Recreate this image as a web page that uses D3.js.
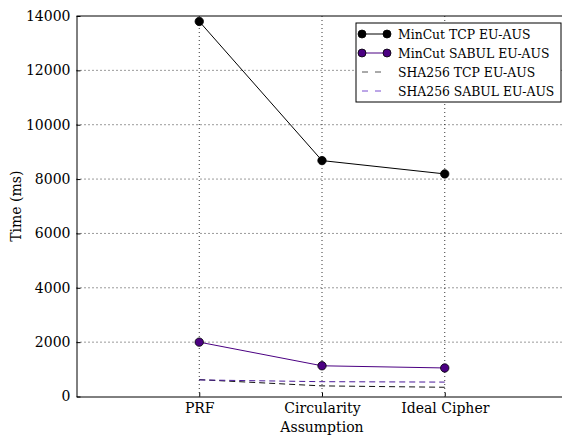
<!DOCTYPE html>
<html><head><meta charset="utf-8">
<script src="https://cdn.jsdelivr.net/npm/d3@7"></script>
<style>body{margin:0;background:#fff}svg{display:block}text{font-family:"DejaVu Serif",serif;fill:#000}</style>
</head><body><svg id="c" width="562" height="435"></svg>
<script>
const categories = ["PRF", "Circularity", "Ideal Cipher"];
const minCutTCP = [13800, 8680, 8190];
const minCutSABUL = [2000, 1130, 1050];
const shaTCP = [620, 390, 340];
const shaSABUL = [610, 545, 530];
const yTicks = [0, 2000, 4000, 6000, 8000, 10000, 12000, 14000];
const seriesNames = ["MinCut TCP EU-AUS", "MinCut SABUL EU-AUS", "SHA256 TCP EU-AUS", "SHA256 SABUL EU-AUS"];

const svg = d3.select("#c");
const L = 76.5, R = 567.5, T = 16, B = 396.5;
const x = d3.scaleLinear().domain([-1, 3]).range([L, R]);
const y = d3.scaleLinear().domain([0, 14000]).range([B, T]);

// grid
svg.append("g").selectAll("line").data(yTicks.slice(1, -1)).join("line")
  .attr("x1", L).attr("x2", R).attr("y1", d => y(d)).attr("y2", d => y(d))
  .attr("stroke", "#000").attr("stroke-width", 0.8).attr("stroke-dasharray", "1,3");
svg.append("g").selectAll("line").data(categories).join("line")
  .attr("x1", (d, i) => x(i)).attr("x2", (d, i) => x(i)).attr("y1", T).attr("y2", B)
  .attr("stroke", "#000").attr("stroke-width", 0.8).attr("stroke-dasharray", "1,3");

// axes
const yAxis = d3.axisLeft(y).tickValues(yTicks).tickFormat(d3.format("d")).tickSizeInner(-4).tickSizeOuter(0).tickPadding(6);
const gy = svg.append("g").attr("transform", `translate(${L},0)`).call(yAxis);
gy.selectAll("text").attr("font-size", 14).attr("font-family", "DejaVu Serif");
const xAxis = d3.axisBottom(x).tickValues([0, 1, 2]).tickFormat(i => categories[i]).tickSizeInner(-4).tickSizeOuter(0).tickPadding(7);
const gx = svg.append("g").attr("transform", `translate(0,${B})`).call(xAxis);
gx.selectAll("text").attr("font-size", 14).attr("font-family", "DejaVu Serif");
svg.selectAll(".domain").attr("stroke", "#000");
svg.append("line").attr("x1", L).attr("x2", R).attr("y1", T).attr("y2", T).attr("stroke", "#000");

svg.append("text").attr("x", x(1)).attr("y", 432).attr("text-anchor", "middle").attr("font-size", 14).text("Assumption");
svg.append("text").attr("transform", `translate(21,${(T + B) / 2}) rotate(-90)`).attr("text-anchor", "middle").attr("font-size", 14).text("Time (ms)");

const line = d3.line().x((d, i) => x(i)).y(d => y(d));
const series = [
  {v: minCutTCP, c: "#000", dash: null, dot: "#000"},
  {v: minCutSABUL, c: "#4b0082", dash: null, dot: "#4b0082"},
  {v: shaTCP, c: "#111", dash: "6,4", dot: null},
  {v: shaSABUL, c: "#4b1a9a", dash: "6,4", dot: null}
];
series.forEach(s => {
  svg.append("path").datum(s.v).attr("d", line).attr("fill", "none").attr("stroke", s.c)
    .attr("stroke-width", 1).attr("stroke-dasharray", s.dash);
  if (s.dot) svg.append("g").selectAll("circle").data(s.v).join("circle")
    .attr("cx", (d, i) => x(i)).attr("cy", d => y(d)).attr("r", 4.2)
    .attr("fill", s.dot).attr("stroke", "#000").attr("stroke-width", 0.8);
});

// legend
const lg = svg.append("g");
lg.append("rect").attr("x", 356).attr("y", 23).attr("width", 205).attr("height", 79)
  .attr("fill", "#fff").attr("stroke", "#000").attr("stroke-width", 1);
series.forEach((s, i) => {
  const yy = 34 + i * 19;
  lg.append("line").attr("x1", 362).attr("x2", 387).attr("y1", yy).attr("y2", yy)
    .attr("stroke", s.dash ? (i === 2 ? "#555" : "#7a4fd0") : s.c).attr("stroke-dasharray", s.dash ? "6,7" : null).attr("stroke-width", 1);
  if (s.dot) [362, 387].forEach(cx => lg.append("circle").attr("cx", cx).attr("cy", yy).attr("r", 4)
    .attr("fill", s.dot).attr("stroke", "#000").attr("stroke-width", 0.8));
  lg.append("text").attr("x", 398).attr("y", yy + 4.5).attr("font-size", 12.4).text(seriesNames[i]);
});
</script></body></html>
